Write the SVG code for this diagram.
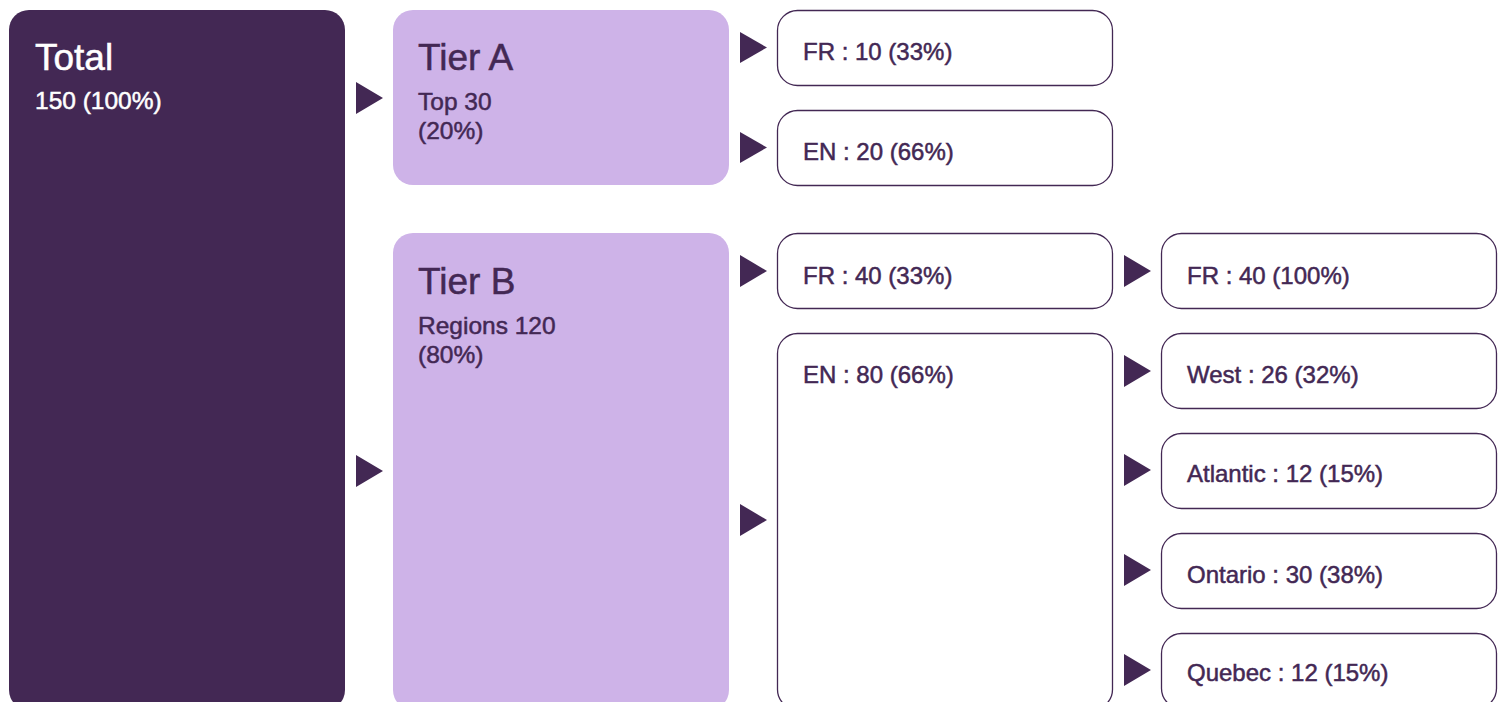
<svg xmlns="http://www.w3.org/2000/svg" width="1504" height="702" viewBox="0 0 1504 702">
<style>
.dark{fill:#432854}
.lav{fill:#CEB3E8}
.out{fill:#ffffff;stroke:#432854;stroke-width:1.3}
text{font-family:"Liberation Sans",Arial,sans-serif;stroke-width:0.5}
.title{font-size:37px}
.sub{font-size:24.5px}
.lbl{font-size:24px;fill:#432854;stroke:#432854}
.w{fill:#ffffff;stroke:#ffffff}
.d{fill:#432854;stroke:#432854}
.tri{fill:#432854}
</style>
<rect width="1504" height="702" fill="#ffffff"/>
<g id="connectors">
<polygon class="tri" points="356,82 383,98 356,114"/>
<polygon class="tri" points="356,455 383,471 356,487"/>
<polygon class="tri" points="740,32 767,47.5 740,63"/>
<polygon class="tri" points="740,132 767,147.5 740,163"/>
<polygon class="tri" points="740,255 767,271 740,287"/>
<polygon class="tri" points="740,504 767,520 740,536"/>
<polygon class="tri" points="1124,255 1151,271 1124,287"/>
<polygon class="tri" points="1124,355 1151,371 1124,387"/>
<polygon class="tri" points="1124,454 1151,470 1124,486"/>
<polygon class="tri" points="1124,554 1151,570 1124,586"/>
<polygon class="tri" points="1124,654 1151,670 1124,686"/>
</g>
<g id="total">
<rect class="dark" x="9" y="10" width="336" height="700" rx="20"/>
<text class="title w" x="35" y="70">Total</text>
<text class="sub w" x="35" y="109">150 (100%)</text>
</g>
<g id="tierA">
<rect class="lav" x="393" y="10" width="336" height="175" rx="20"/>
<text class="title d" x="418" y="70">Tier A</text>
<text class="sub d" x="418" y="110">Top 30</text>
<text class="sub d" x="418" y="139">(20%)</text>
</g>
<g id="tierB">
<rect class="lav" x="393" y="233" width="336" height="477" rx="20"/>
<text class="title d" x="418" y="294">Tier B</text>
<text class="sub d" x="418" y="334">Regions 120</text>
<text class="sub d" x="418" y="363">(80%)</text>
</g>
<g id="a-fr">
<rect class="out" x="777.5" y="10.5" width="335" height="75" rx="20"/>
<text class="lbl" x="803" y="60">FR : 10 (33%)</text>
</g>
<g id="a-en">
<rect class="out" x="777.5" y="110.5" width="335" height="75" rx="20"/>
<text class="lbl" x="803" y="160">EN : 20 (66%)</text>
</g>
<g id="b-fr">
<rect class="out" x="777.5" y="233.5" width="335" height="75" rx="20"/>
<text class="lbl" x="803" y="284">FR : 40 (33%)</text>
</g>
<g id="b-en">
<rect class="out" x="777.5" y="333.5" width="335" height="376" rx="20"/>
<text class="lbl" x="803" y="383">EN : 80 (66%)</text>
</g>
<g id="b-fr-fr">
<rect class="out" x="1161.5" y="233.5" width="335" height="75" rx="20"/>
<text class="lbl" x="1187" y="284">FR : 40 (100%)</text>
</g>
<g id="west">
<rect class="out" x="1161.5" y="333.5" width="335" height="75" rx="20"/>
<text class="lbl" x="1187" y="383">West : 26 (32%)</text>
</g>
<g id="atlantic">
<rect class="out" x="1161.5" y="433.5" width="335" height="75" rx="20"/>
<text class="lbl" x="1187" y="482">Atlantic : 12 (15%)</text>
</g>
<g id="ontario">
<rect class="out" x="1161.5" y="533.5" width="335" height="75" rx="20"/>
<text class="lbl" x="1187" y="583">Ontario : 30 (38%)</text>
</g>
<g id="quebec">
<rect class="out" x="1161.5" y="633.5" width="335" height="75" rx="20"/>
<text class="lbl" x="1187" y="681">Quebec : 12 (15%)</text>
</g>
</svg>
